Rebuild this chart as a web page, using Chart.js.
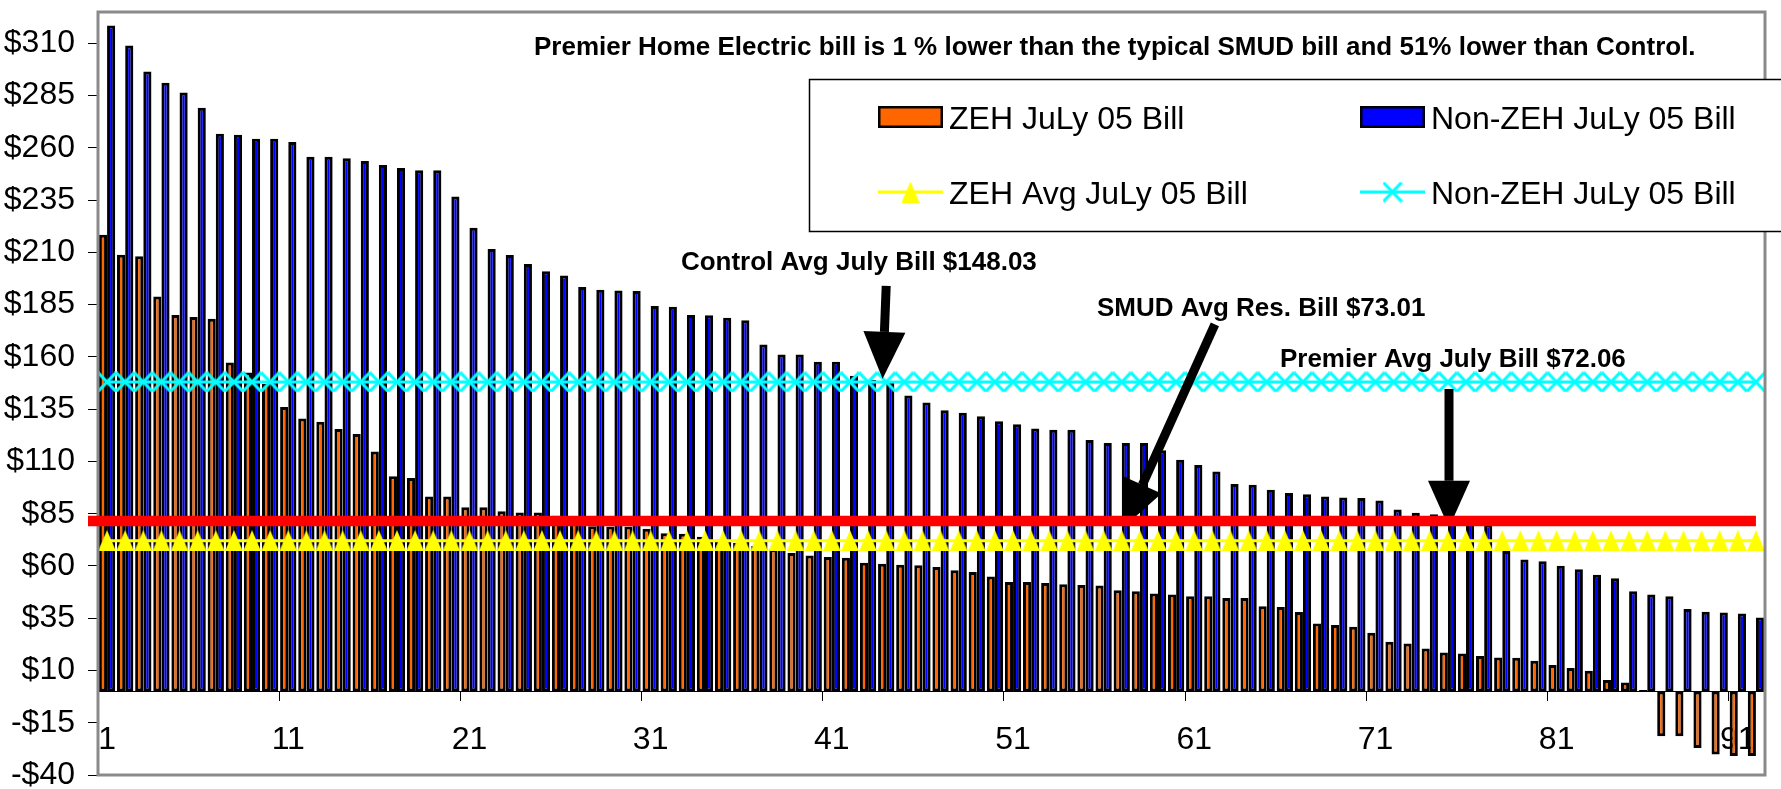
<!DOCTYPE html>
<html>
<head>
<meta charset="utf-8">
<title>ZEH vs Non-ZEH July 05 Bills</title>
<script src="https://cdn.jsdelivr.net/npm/chart.js@4.4.1/dist/chart.umd.min.js"></script>
<style>
  html, body { margin: 0; padding: 0; background: #fff; }
  #wrap { width: 1781px; height: 789px; }
</style>
</head>
<body>
<div id="wrap"><canvas id="billChart" width="1781" height="789"></canvas></div>
<script>
// houses, sorted by Non-ZEH bill
const houseNumbers = [
  '1','2','3','4','5','6','7','8','9','10','11','12','13','14','15','16','17','18','19','20',
  '21','22','23','24','25','26','27','28','29','30','31','32','33','34','35','36','37','38','39','40',
  '41','42','43','44','45','46','47','48','49','50','51','52','53','54','55','56','57','58','59','60',
  '61','62','63','64','65','66','67','68','69','70','71','72','73','74','75','76','77','78','79','80',
  '81','82','83','84','85','86','87','88','89','90','91','92'
];

const zehBills = [
  218.5, 208.9, 208.1, 188.9, 180.0, 179.1, 178.3, 157.3, 152.5, 147.0,
  136.1, 130.5, 129.0, 125.5, 123.1, 114.8, 102.9, 102.1, 93.2, 93.2,
  88.1, 88.1, 86.2, 85.6, 85.6, 84.0, 82.0, 79.0, 78.9, 78.9,
  77.8, 75.7, 75.4, 74.0, 72.5, 71.0, 69.5, 68.0, 66.2, 65.0,
  64.3, 63.9, 61.5, 61.1, 60.6, 60.3, 59.5, 57.9, 57.1, 55.0,
  52.3, 52.3, 51.9, 51.2, 50.9, 50.6, 48.4, 47.9, 46.8, 46.3,
  45.5, 45.5, 44.7, 44.7, 40.7, 40.4, 38.0, 32.5, 31.7, 30.9,
  28.0, 23.7, 22.9, 20.5, 18.6, 18.1, 16.9, 16.2, 16.1, 14.7,
  12.6, 11.2, 9.9, 5.4, 4.3, 0.7, -21.5, -21.5, -27.1, -30.2,
  -30.9, -30.9
];

const nonZehBills = [
  318.5, 309.0, 296.5, 291.2, 286.5, 279.2, 266.8, 266.3, 264.4, 264.4,
  262.8, 255.8, 255.8, 255.0, 253.7, 251.8, 250.4, 249.3, 249.3, 236.7,
  221.8, 211.6, 208.8, 204.5, 201.0, 198.9, 193.5, 192.1, 191.8, 191.5,
  184.3, 184.0, 180.0, 179.9, 178.7, 177.5, 166.0, 161.2, 161.2, 157.7,
  157.7, 151.0, 149.0, 147.5, 141.5, 138.2, 134.5, 133.3, 131.6, 129.2,
  127.8, 125.7, 125.1, 125.1, 120.2, 118.8, 118.8, 118.8, 115.4, 110.8,
  108.3, 105.2, 99.2, 98.9, 96.4, 94.9, 94.3, 93.2, 92.8, 92.5,
  91.3, 87.0, 85.5, 84.7, 82.5, 81.0, 80.0, 67.1, 63.1, 62.3,
  60.1, 58.4, 55.8, 54.1, 47.9, 46.3, 45.5, 39.4, 38.1, 37.7,
  37.2, 35.3
];

const zehAvgBill = 72.06;       // Premier avg
const controlAvgBill = 148.03;  // Control avg
const redLineLevel = 81.5;      // hand drawn red line

const yTickValues = [-40, -15, 10, 35, 60, 85, 110, 135, 160, 185, 210, 235, 260, 285, 310];
const xTickLabels = ['1', '11', '21', '31', '41', '51', '61', '71', '81', '91'];

const titleText = 'Premier Home Electric bill is 1 % lower than the typical SMUD bill and 51% lower than Control.';

// callouts in data units: [category index, dollars]
const callouts = [
  { text: 'Control Avg July Bill $148.03', at: [31.67, 201.8] },
  { text: 'SMUD Avg Res. Bill $73.01', at: [54.63, 179.4] },
  { text: 'Premier Avg July Bill $72.06', at: [64.73, 155.1] }
];
const arrows = [
  { from: [43.0, 194.0], to: [42.8, 149.5] },
  { from: [61.14, 175.6], to: [56.07, 78.3] },
  { from: [74.06, 144.6], to: [74.06, 78.3] }
];

const FONT = "'Liberation Sans', Arial, Helvetica, sans-serif";

function makeTriangleMarker(color) {
  const c = document.createElement('canvas');
  c.width = 18;
  c.height = 21;
  const g = c.getContext('2d');
  g.fillStyle = color;
  g.beginPath();
  g.moveTo(9, 0);
  g.lineTo(18, 21);
  g.lineTo(0, 21);
  g.closePath();
  g.fill();
  return c;
}

function makeCrossMarker(color) {
  const c = document.createElement('canvas');
  c.width = 20;
  c.height = 21;
  const g = c.getContext('2d');
  g.strokeStyle = color;
  g.lineWidth = 3;
  g.beginPath();
  g.moveTo(1, 1); g.lineTo(19, 20);
  g.moveTo(19, 1); g.lineTo(1, 20);
  g.stroke();
  return c;
}

const triangleMarker = makeTriangleMarker('#FFFF00');
const crossMarker = makeCrossMarker('#00FFFF');

function drawArrow(ctx, x1, y1, x2, y2) {
  const headLen = 47, headHalf = 21;
  const dx = x2 - x1, dy = y2 - y1;
  const len = Math.sqrt(dx * dx + dy * dy);
  const ux = dx / len, uy = dy / len;
  const bx = x2 - ux * headLen, by = y2 - uy * headLen;
  ctx.strokeStyle = '#000';
  ctx.lineWidth = 9;
  ctx.beginPath();
  ctx.moveTo(x1, y1);
  ctx.lineTo(bx, by);
  ctx.stroke();
  ctx.fillStyle = '#000';
  ctx.beginPath();
  ctx.moveTo(x2, y2);
  ctx.lineTo(bx - uy * headHalf, by + ux * headHalf);
  ctx.lineTo(bx + uy * headHalf, by - ux * headHalf);
  ctx.closePath();
  ctx.fill();
}

function drawLegendBox(chart) {
  const ctx = chart.ctx;
  const ds = chart.data.datasets;
  const boxLeft = 809, boxTop = 79, boxBottom = 231;
  ctx.save();
  ctx.fillStyle = '#fff';
  ctx.fillRect(boxLeft, boxTop, chart.width - boxLeft + 5, boxBottom - boxTop);
  ctx.strokeStyle = '#000';
  ctx.lineWidth = 1.5;
  ctx.strokeRect(boxLeft + 0.5, boxTop + 0.5, chart.width - boxLeft + 5, boxBottom - boxTop);

  // 2 x 2 grid: bars on the first row, lines on the second
  const cols = [878, 1360];
  const rows = [117, 192];
  const entries = [
    { ds: ds[0], col: 0, row: 0 },
    { ds: ds[1], col: 1, row: 0 },
    { ds: ds[2], col: 0, row: 1 },
    { ds: ds[3], col: 1, row: 1 }
  ];
  entries.forEach(e => {
    const x = cols[e.col], cy = rows[e.row];
    if (e.ds.type === 'line') {
      ctx.strokeStyle = e.ds.borderColor;
      ctx.lineWidth = 3;
      ctx.beginPath();
      ctx.moveTo(x, cy);
      ctx.lineTo(x + 65, cy);
      ctx.stroke();
      const m = e.ds.pointStyle;
      ctx.drawImage(m, x + 32.5 - m.width / 2, cy - m.height / 2);
    } else {
      ctx.fillStyle = '#000';
      ctx.fillRect(x, cy - 11, 65, 22);
      ctx.fillStyle = e.ds.backgroundColor;
      ctx.fillRect(x + 2.5, cy - 8.5, 60, 17);
    }
    ctx.fillStyle = '#000';
    ctx.font = '32px ' + FONT;
    ctx.textAlign = 'left';
    ctx.textBaseline = 'alphabetic';
    ctx.fillText(e.ds.label, x + 71, cy + 11.5);
  });
  ctx.restore();
}

const overlayPlugin = {
  id: 'overlay',
  afterDatasetsDraw(chart) {
    const { ctx, chartArea, scales } = chart;
    const xs = scales.x, ys = scales.y;
    ctx.save();
    // plot area frame
    ctx.strokeStyle = '#8a8a8a';
    ctx.lineWidth = 3;
    ctx.strokeRect(chartArea.left, chartArea.top, chartArea.right - chartArea.left, chartArea.bottom - chartArea.top);

    arrows.forEach(a => {
      drawArrow(ctx,
        xs.getPixelForValue(a.from[0]), ys.getPixelForValue(a.from[1]),
        xs.getPixelForValue(a.to[0]), ys.getPixelForValue(a.to[1]));
    });

    // red line sits on top of the arrow tips
    const yRed = ys.getPixelForValue(redLineLevel);
    ctx.strokeStyle = '#FF0000';
    ctx.lineWidth = 10.5;
    ctx.beginPath();
    ctx.moveTo(chartArea.left - 10, yRed);
    ctx.lineTo(xs.getPixelForValue(houseNumbers.length - 1), yRed);
    ctx.stroke();
    ctx.restore();
  },
  afterDraw(chart) {
    const { ctx, chartArea, scales } = chart;
    ctx.save();
    ctx.fillStyle = '#000';
    ctx.textAlign = 'left';
    ctx.textBaseline = 'alphabetic';
    ctx.font = 'bold 26px ' + FONT;
    ctx.fillText(titleText, chartArea.left + 436, chartArea.top + 43);
    callouts.forEach(c => {
      ctx.fillText(c.text, scales.x.getPixelForValue(c.at[0]), scales.y.getPixelForValue(c.at[1]));
    });
    ctx.restore();
    drawLegendBox(chart);
  }
};

const ctx = document.getElementById('billChart').getContext('2d');
const billChart = new Chart(ctx, {
  type: 'bar',
  data: {
    labels: houseNumbers,
    datasets: [
      {
        label: 'ZEH JuLy 05 Bill',
        data: zehBills,
        backgroundColor: '#FF6600',
        borderColor: '#000000',
        borderWidth: 3,
        borderSkipped: false,
        order: 1
      },
      {
        label: 'Non-ZEH JuLy 05 Bill',
        data: nonZehBills,
        backgroundColor: '#0000FF',
        borderColor: '#000000',
        borderWidth: 3,
        borderSkipped: false,
        order: 1
      },
      {
        type: 'line',
        label: 'ZEH Avg JuLy 05 Bill',
        data: houseNumbers.map(() => zehAvgBill),
        borderColor: '#FFFF00',
        borderWidth: 3,
        pointStyle: triangleMarker,
        pointRadius: 9,
        fill: false,
        order: 0
      },
      {
        type: 'line',
        label: 'Non-ZEH JuLy 05 Bill',
        data: houseNumbers.map(() => controlAvgBill),
        borderColor: '#00FFFF',
        borderWidth: 3,
        pointStyle: crossMarker,
        pointRadius: 9,
        fill: false,
        order: 0
      }
    ]
  },
  options: {
    responsive: false,
    animation: false,
    devicePixelRatio: 1,
    events: [],
    layout: { padding: { left: 0, top: 10, right: 16, bottom: 14 } },
    categoryPercentage: 0.9,
    barPercentage: 1.0,
    plugins: {
      legend: { display: false },
      tooltip: { enabled: false },
      title: { display: false }
    },
    scales: {
      x: {
        position: { y: 0 },
        offset: true,
        ticks: {
          autoSkip: false,
          maxRotation: 0,
          color: '#000',
          padding: 21,
          font: { family: FONT, size: 32 },
          callback: function(value) {
            const label = this.getLabelForValue(value);
            return xTickLabels.includes(label) ? label : '';
          }
        },
        grid: {
          offset: true,
          drawOnChartArea: false,
          tickLength: 9,
          lineWidth: 1,
          color: c => (c.index > 0 && c.index % 10 === 0) ? '#000' : 'rgba(0,0,0,0)'
        },
        border: { display: true, color: '#000', width: 1 }
      },
      y: {
        min: -40,
        max: 325,
        afterBuildTicks: axis => { axis.ticks = yTickValues.map(v => ({ value: v })); },
        afterFit: axis => { axis.width = 98; axis.paddingTop = 0; axis.paddingBottom = 0; },
        ticks: {
          color: '#000',
          padding: 13,
          font: { family: FONT, size: 32 },
          callback: v => (v < 0 ? '-$' + Math.abs(v) : '$' + v)
        },
        grid: { drawOnChartArea: false, tickLength: 10, color: '#000', lineWidth: 1 },
        border: { display: false }
      }
    }
  },
  plugins: [overlayPlugin]
});
</script>
</body>
</html>
